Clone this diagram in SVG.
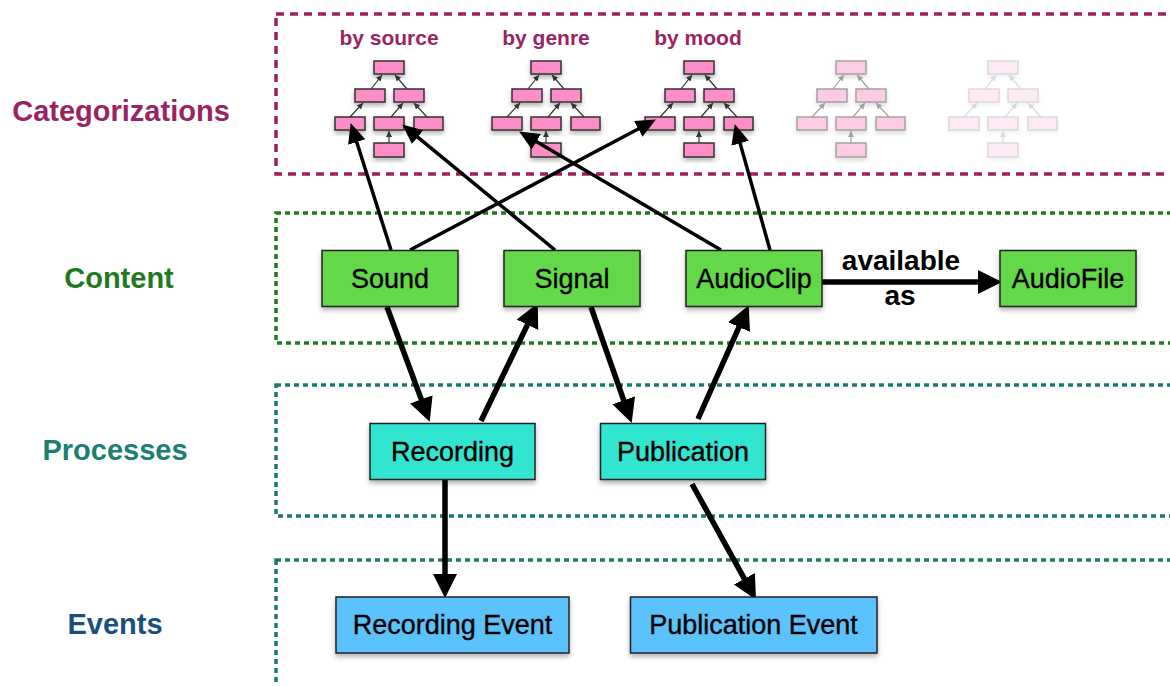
<svg xmlns="http://www.w3.org/2000/svg" xmlns:xlink="http://www.w3.org/1999/xlink" width="1170" height="686" viewBox="0 0 1170 686">
<style>
.lane{fill:none;stroke-width:3.5;stroke-dasharray:5 4}
.lane.cz{stroke-dasharray:8 6}
.lanelbl{font-family:"Liberation Sans",Arial,sans-serif;font-weight:bold;font-size:29px;text-anchor:middle}
.node rect{stroke:#222;stroke-width:1.5;filter:url(#sh)}
.node text{font-family:"Liberation Sans",Arial,sans-serif;font-size:27px;text-anchor:middle;fill:#000;stroke:#000;stroke-width:0.35}
.c rect{fill:#63d84a}
.p rect{fill:#30e5d0}
.e rect{fill:#5cc2fb}
.cat{font-family:"Liberation Sans",Arial,sans-serif;font-weight:bold;font-size:21px;fill:#9a2462;text-anchor:middle}
.tb{fill:#fd8dc6;stroke:#333;stroke-width:1.5}
.tl{stroke:#333;stroke-width:1.2;fill:none;marker-end:url(#ts)}
.thick{stroke:#000;stroke-width:5.5;fill:none;marker-end:url(#hk)}
.thin{stroke:#000;stroke-width:3.5;fill:none;marker-end:url(#hn)}
.elbl{font-family:"Liberation Sans",Arial,sans-serif;font-weight:bold;font-size:28px;text-anchor:middle;fill:#000}
</style>
<defs>
<filter id="sh" x="-20%" y="-20%" width="140%" height="160%">
<feDropShadow dx="0" dy="3" stdDeviation="2.5" flood-color="#000" flood-opacity="0.3"/>
</filter>
<marker id="hk" markerUnits="userSpaceOnUse" markerWidth="26" markerHeight="26" refX="12" refY="12" orient="auto" viewBox="0 0 26 26">
<path d="M0,0 L24,12 L0,24 z" fill="#000"/>
</marker>
<marker id="hn" markerUnits="userSpaceOnUse" markerWidth="22" markerHeight="20" refX="9" refY="9" orient="auto" viewBox="0 0 22 20">
<path d="M0,0 L20,9 L0,18 z" fill="#000"/>
</marker>
<marker id="ts" markerUnits="userSpaceOnUse" markerWidth="8" markerHeight="8" refX="6" refY="3" orient="auto" viewBox="0 0 8 8">
<path d="M0,0 L6,3 L0,6 z" fill="#333"/>
</marker>
<g id="tree">
<rect class="tb" x="-15" y="61" width="30" height="13" filter="url(#sh)"/>
<rect class="tb" x="-34" y="89" width="30" height="13" filter="url(#sh)"/>
<rect class="tb" x="5" y="89" width="30" height="13" filter="url(#sh)"/>
<rect class="tb" x="-54" y="117" width="30" height="13" filter="url(#sh)"/>
<rect class="tb" x="-15" y="117" width="30" height="13" filter="url(#sh)"/>
<rect class="tb" x="25" y="117" width="29" height="13" filter="url(#sh)"/>
<rect class="tb" x="-15" y="143" width="30" height="14" filter="url(#sh)"/>
<line class="tl" x1="-18" y1="89" x2="-7" y2="75"/>
<line class="tl" x1="18" y1="89" x2="6" y2="75"/>
<line class="tl" x1="-39" y1="117" x2="-26" y2="103"/>
<line class="tl" x1="2" y1="117" x2="14" y2="103"/>
<line class="tl" x1="38" y1="117" x2="25" y2="103"/>
<line class="tl" x1="0" y1="143" x2="0" y2="131"/>
</g>
</defs>
<rect width="1170" height="686" fill="#fff"/>

<g id="lanes">
<rect class="lane cz" x="276" y="14" width="910" height="160" stroke="#9a1f5e"/>
<rect class="lane" x="276" y="213" width="910" height="130" stroke="#1f7a1f"/>
<rect class="lane" x="276" y="385" width="910" height="131" stroke="#1a7a6e"/>
<rect class="lane" x="276" y="560" width="910" height="150" stroke="#1a7a6e"/>
<text class="lanelbl" x="121" y="121" fill="#9a2462">Categorizations</text>
<text class="lanelbl" x="119" y="288" fill="#1f7a1f">Content</text>
<text class="lanelbl" x="115" y="460" fill="#1a7f72">Processes</text>
<text class="lanelbl" x="115" y="634" fill="#17507f">Events</text>
</g>

<g id="categorizations">
<text class="cat" x="389" y="45">by source</text>
<text class="cat" x="546" y="45">by genre</text>
<text class="cat" x="698" y="45">by mood</text>
<use xlink:href="#tree" href="#tree" x="389"/>
<use xlink:href="#tree" href="#tree" x="546"/>
<use xlink:href="#tree" href="#tree" x="699"/>
<use xlink:href="#tree" href="#tree" x="851" opacity="0.45"/>
<use xlink:href="#tree" href="#tree" x="1003" opacity="0.18"/>
</g>

<g id="connectors">
<line class="thin" x1="391" y1="250" x2="354" y2="133.5"/>
<line class="thin" x1="410" y1="250" x2="646.2" y2="124.7"/>
<line class="thin" x1="555" y1="250" x2="410.7" y2="131.4"/>
<line class="thin" x1="721" y1="250" x2="528.6" y2="137.1"/>
<line class="thin" x1="770" y1="250" x2="737.7" y2="134.6"/>
<line class="thick" x1="387" y1="307" x2="425.5" y2="410.6"/>
<line class="thick" x1="481" y1="421" x2="532.6" y2="314"/>
<line class="thick" x1="591" y1="307" x2="627.7" y2="411.6"/>
<line class="thick" x1="698" y1="419" x2="743.9" y2="316.1"/>
<line class="thick" x1="445" y1="479" x2="445" y2="586"/>
<line class="thick" x1="692" y1="484" x2="750.2" y2="589.3"/>
<line class="thick" x1="822" y1="282" x2="990" y2="282"/>
<text class="elbl" x="901" y="270">available</text>
<text class="elbl" x="900" y="305">as</text>
</g>

<g id="node-sound" class="node c"><rect x="322" y="250.5" width="136" height="56"/><text x="390" y="287.5">Sound</text></g>
<g id="node-signal" class="node c"><rect x="504" y="250.5" width="136" height="56"/><text x="572" y="287.5">Signal</text></g>
<g id="node-audioclip" class="node c"><rect x="686" y="250.5" width="136" height="56"/><text x="754" y="287.5">AudioClip</text></g>
<g id="node-audiofile" class="node c"><rect x="1000" y="250.5" width="136" height="56"/><text x="1068" y="287.5">AudioFile</text></g>
<g id="node-recording" class="node p"><rect x="370" y="423.5" width="165" height="56"/><text x="452.5" y="460.5">Recording</text></g>
<g id="node-publication" class="node p"><rect x="600.5" y="423.5" width="165" height="56"/><text x="683" y="460.5">Publication</text></g>
<g id="node-recording-event" class="node e"><rect x="336" y="597" width="233" height="56"/><text x="452.5" y="634">Recording Event</text></g>
<g id="node-publication-event" class="node e"><rect x="630.5" y="597" width="246.5" height="56"/><text x="753.5" y="634">Publication Event</text></g>
</svg>
